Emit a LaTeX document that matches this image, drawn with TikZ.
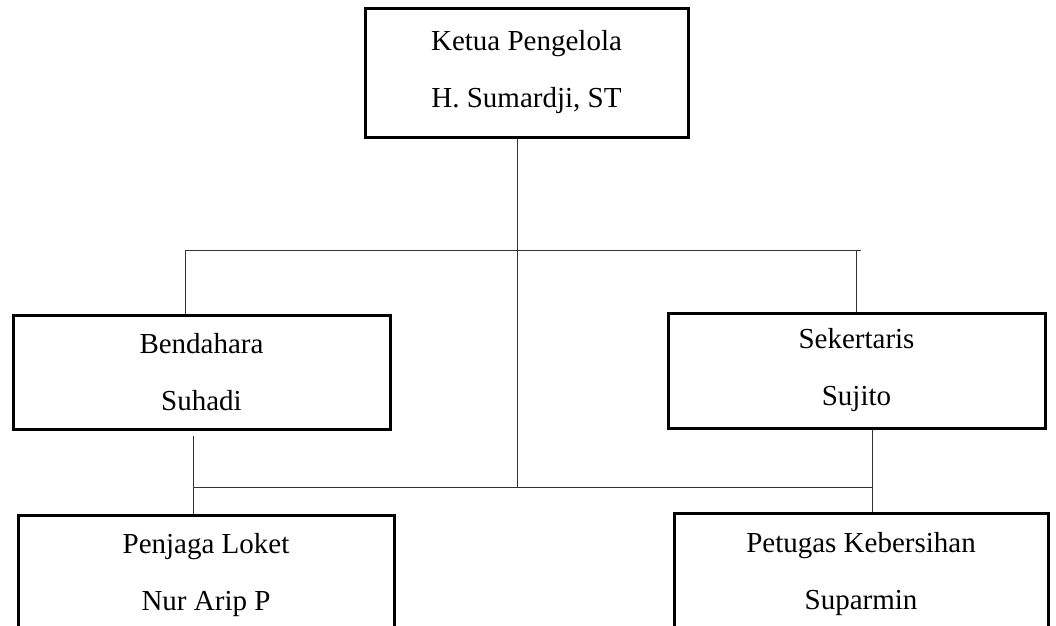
\documentclass[tikz,border=0pt]{standalone}
\usepackage{fontspec}
\setmainfont{Liberation Serif}
\usetikzlibrary{positioning}
\tikzset{x=1pt, y=-1pt, % one unit is one pixel, y runs downwards
jabatan/.style={ % Sets the properties for each box
draw, line width=3pt, rectangle, align=center,
font=\fontsize{29}{57}\selectfont},
garis/.style={ % Sets the properties for each connecting line
draw, line width=1pt, black!80}}

\begin{document}
\begin{tikzpicture}
    \clip (0,0) rectangle (1056,625);

    \node[jabatan, minimum width=323pt, minimum height=129pt] (ketua) at (526.5,72.5) {Ketua Pengelola\\H. Sumardji, ST};
    \node[jabatan, minimum width=377pt, minimum height=114pt] (bendahara) at (201.5,372) {Bendahara\\Suhadi};
    \node[jabatan, minimum width=377pt, minimum height=115pt] (sekretaris) at (856.5,370.5) {Sekertaris\\Sujito};
    \node[jabatan, minimum width=376pt, minimum height=121pt] (penjaga) at (206,575.5) {Penjaga Loket\\Nur Arip P};
    \node[jabatan, minimum width=374pt, minimum height=123pt] (petugas) at (861,574.5) {Petugas Kebersihan\\Suparmin};

    \coordinate (atasKiri) at (185,250);
    \coordinate (atasKanan) at (861,250);
    \coordinate (pusat) at (517,487);
    \coordinate (kiri) at (193,487);
    \coordinate (kanan) at (872,487);

    \draw[garis] (ketua.south -| pusat) -- (pusat);
    \draw[garis] (atasKiri) -- (atasKanan);
    \draw[garis] (atasKiri) -- (bendahara.north -| atasKiri);
    \draw[garis] (sekretaris.north |- atasKanan) -- (sekretaris.north);

    \draw[garis] (kiri) -- (kanan);
    \draw[garis] ([yshift=-5pt]bendahara.south -| kiri) -- (penjaga.north -| kiri);
    \draw[garis] (sekretaris.south -| kanan) -- (petugas.north -| kanan);

\end{tikzpicture}
\end{document}
